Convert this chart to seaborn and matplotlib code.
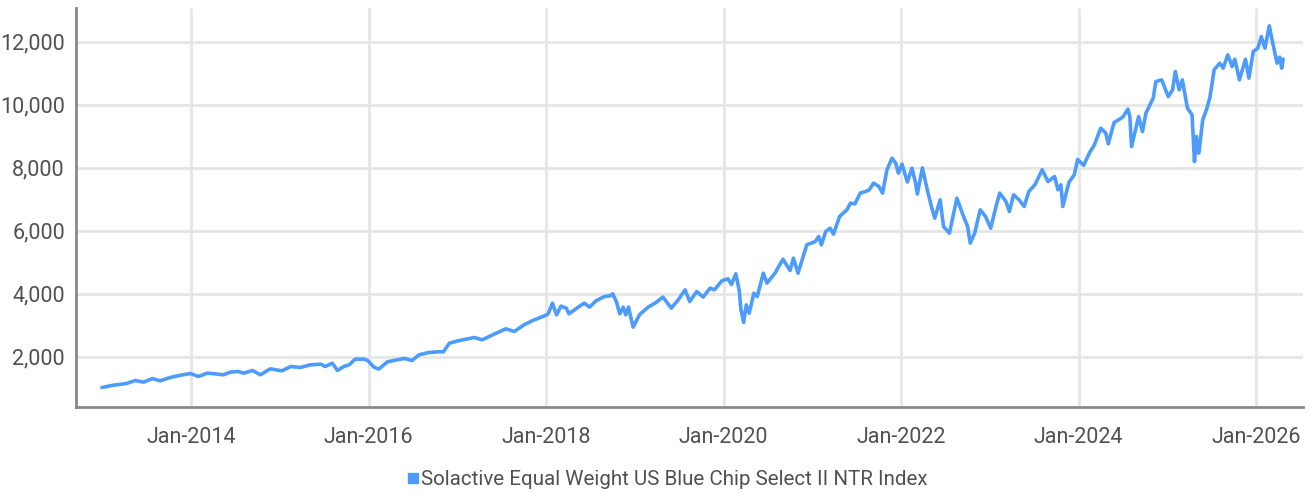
"""
Solactive Equal Weight US Blue Chip Select II NTR Index - history chart
"""

import pandas as pd
import matplotlib
matplotlib.use('Agg')
import matplotlib.pyplot as plt
import matplotlib.dates as mdates
from matplotlib.lines import Line2D
from matplotlib.ticker import FuncFormatter
import seaborn as sns

# --- Data ---
series_name = 'Solactive Equal Weight US Blue Chip Select II NTR Index'

dates = [
    '2012-12-28', '2013-02-14', '2013-04-08', '2013-05-15', '2013-06-18', '2013-07-24',
    '2013-08-25', '2013-10-05', '2013-11-18', '2013-12-28', '2014-01-30', '2014-03-07',
    '2014-04-08', '2014-05-12', '2014-06-10', '2014-07-12', '2014-08-04', '2014-09-09',
    '2014-10-12', '2014-11-21', '2015-01-08', '2015-02-14', '2015-03-25', '2015-05-05',
    '2015-06-18', '2015-07-05', '2015-08-04', '2015-08-25', '2015-09-20', '2015-10-12',
    '2015-11-06', '2015-12-14', '2015-12-28', '2016-01-22', '2016-02-11', '2016-03-18',
    '2016-04-26', '2016-05-26', '2016-06-27', '2016-07-26', '2016-09-05', '2016-10-12',
    '2016-11-03', '2016-11-28', '2017-01-02', '2017-02-06', '2017-03-10', '2017-04-12',
    '2017-06-03', '2017-07-18', '2017-08-22', '2017-10-01', '2017-11-06', '2017-12-24',
    '2018-01-08', '2018-01-26', '2018-02-12', '2018-03-02', '2018-03-24', '2018-04-04',
    '2018-05-12', '2018-06-06', '2018-06-28', '2018-07-24', '2018-08-28', '2018-09-20',
    '2018-10-01', '2018-10-16', '2018-10-30', '2018-11-13', '2018-11-24', '2018-12-05',
    '2018-12-24', '2019-01-19', '2019-02-24', '2019-03-28', '2019-04-26', '2019-05-30',
    '2019-06-28', '2019-07-26', '2019-08-14', '2019-09-12', '2019-10-08', '2019-11-06',
    '2019-11-24', '2019-12-24', '2020-01-18', '2020-02-02', '2020-02-20', '2020-03-05',
    '2020-03-12', '2020-03-23', '2020-04-03', '2020-04-15', '2020-05-04', '2020-05-18',
    '2020-06-12', '2020-06-27', '2020-07-30', '2020-09-01', '2020-09-30', '2020-10-14',
    '2020-11-02', '2020-12-08', '2021-01-12', '2021-01-26', '2021-02-06', '2021-02-24',
    '2021-03-14', '2021-03-28', '2021-04-22', '2021-05-22', '2021-06-06', '2021-06-24',
    '2021-07-16', '2021-08-07', '2021-08-22', '2021-09-09', '2021-10-01', '2021-10-16',
    '2021-11-03', '2021-11-24', '2021-12-09', '2021-12-20', '2022-01-04', '2022-01-26',
    '2022-02-14', '2022-03-01', '2022-03-08', '2022-03-29', '2022-04-15', '2022-05-05',
    '2022-05-19', '2022-06-10', '2022-06-24', '2022-07-18', '2022-07-30', '2022-08-18',
    '2022-09-09', '2022-10-01', '2022-10-12', '2022-10-30', '2022-11-22', '2022-12-14',
    '2023-01-04', '2023-01-26', '2023-02-10', '2023-03-08', '2023-03-22', '2023-04-08',
    '2023-05-01', '2023-05-22', '2023-06-10', '2023-07-05', '2023-08-04', '2023-08-28',
    '2023-09-24', '2023-10-08', '2023-10-20', '2023-10-28', '2023-11-22', '2023-12-14',
    '2023-12-28', '2024-01-22', '2024-02-14', '2024-03-06', '2024-04-01', '2024-04-22',
    '2024-05-02', '2024-05-26', '2024-07-01', '2024-07-22', '2024-07-30', '2024-08-06',
    '2024-09-04', '2024-09-20', '2024-10-04', '2024-11-03', '2024-11-14', '2024-12-08',
    '2025-01-04', '2025-01-22', '2025-02-02', '2025-02-18', '2025-03-03', '2025-03-24',
    '2025-04-12', '2025-04-22', '2025-04-30', '2025-05-10', '2025-05-26', '2025-06-10',
    '2025-06-24', '2025-07-12', '2025-08-04', '2025-08-18', '2025-09-06', '2025-09-24',
    '2025-10-05', '2025-10-24', '2025-11-18', '2025-12-02', '2025-12-20', '2026-01-08',
    '2026-01-22', '2026-02-06', '2026-02-24', '2026-03-06', '2026-03-28', '2026-04-08',
    '2026-04-16', '2026-04-22',
]

values = [
    1025, 1100, 1152, 1248, 1196, 1311,
    1238, 1343, 1418, 1470, 1375, 1482,
    1460, 1429, 1514, 1535, 1482, 1566,
    1429, 1619, 1556, 1693, 1661, 1746,
    1767, 1693, 1799, 1566, 1693, 1746,
    1926, 1926, 1880, 1673, 1610, 1842,
    1905, 1947, 1884, 2064, 2138, 2159,
    2159, 2434, 2508, 2561, 2614, 2540,
    2731, 2889, 2804, 3016, 3153, 3302,
    3360, 3705, 3334, 3610, 3546, 3366,
    3578, 3705, 3578, 3778, 3915, 3937,
    4001, 3756, 3366, 3578, 3334, 3578,
    2943, 3334, 3578, 3724, 3896, 3546,
    3810, 4128, 3756, 4074, 3896, 4181,
    4128, 4410, 4480, 4300, 4636, 4100,
    3500, 3091, 3651, 3387, 4022, 3915,
    4656, 4340, 4656, 5101, 4741, 5133,
    4656, 5556, 5662, 5820, 5556, 5979,
    6085, 5895, 6455, 6668, 6880, 6858,
    7198, 7249, 7303, 7515, 7407, 7198,
    7938, 8309, 8150, 7833, 8120, 7550,
    7991, 7515, 7170, 8000, 7407, 6773,
    6404, 6985, 6137, 5927, 6350, 7039,
    6563, 6137, 5610, 5927, 6668, 6455,
    6085, 6773, 7198, 6931, 6614, 7144,
    6985, 6773, 7249, 7461, 7938, 7566,
    7725, 7303, 7461, 6773, 7540, 7779,
    8265, 8080, 8468, 8731, 9261, 9103,
    8763, 9439, 9611, 9865, 9630, 8677,
    9630, 9153, 9737, 10214, 10741, 10795,
    10265, 10478, 11059, 10478, 10795, 9896,
    9684, 8201, 8995, 8468, 9525, 9843,
    10214, 11113, 11325, 11166, 11589, 11219,
    11452, 10795, 11452, 10849, 11695, 11801,
    12169, 11801, 12510, 12119, 11325, 11516,
    11166, 11452,
]

y_ticks = [2000, 4000, 6000, 8000, 10000, 12000]
x_tick_years = [2014, 2016, 2018, 2020, 2022, 2024, 2026]

df = pd.DataFrame({'date': pd.to_datetime(dates), 'value': values})

# --- Style ---
line_color = '#4D9BFA'
text_color = '#505050'
grid_color = '#E6E6E6'
axis_color = '#8A8A8A'

sns.set_style('white')
plt.rcParams['font.family'] = ['Roboto', 'DejaVu Sans']

fig = plt.figure(figsize=(13.12, 4.93), dpi=100)
ax = fig.add_axes([0.058, 0.174, 0.935, 0.81])

sns.lineplot(data=df, x='date', y='value', color=line_color, linewidth=2.6, ax=ax, legend=False)

# --- Axes ---
ax.set_xlim(pd.Timestamp('2012-09-13'), pd.Timestamp('2026-07-12'))
ax.set_ylim(400, 13080)
ax.set_yticks(y_ticks)
ax.yaxis.set_major_formatter(FuncFormatter(lambda v, p: f'{int(v):,}'))
ax.set_xticks([pd.Timestamp(f'{y}-01-01') for y in x_tick_years])
ax.xaxis.set_major_formatter(mdates.DateFormatter('%b-%Y'))

ax.grid(True, color=grid_color, linewidth=2)
ax.set_axisbelow(True)
ax.tick_params(axis='both', length=0, labelsize=15.5, colors=text_color)
ax.tick_params(axis='y', pad=8)
ax.tick_params(axis='x', pad=14)
ax.set_xlabel('')
ax.set_ylabel('')

for side in ['top', 'right']:
    ax.spines[side].set_visible(False)
for side in ['left', 'bottom']:
    ax.spines[side].set_color(axis_color)
    ax.spines[side].set_linewidth(2)

# --- Legend ---
handle = Line2D([], [], marker='s', linestyle='none', color=line_color, markersize=7.5)
fig.legend([handle], [series_name], loc='center', bbox_to_anchor=(0.508, 0.028),
           frameon=False, fontsize=14.8, labelcolor=text_color,
           handletextpad=0.0, handlelength=0.8)

fig.savefig('out.png', dpi=100)
